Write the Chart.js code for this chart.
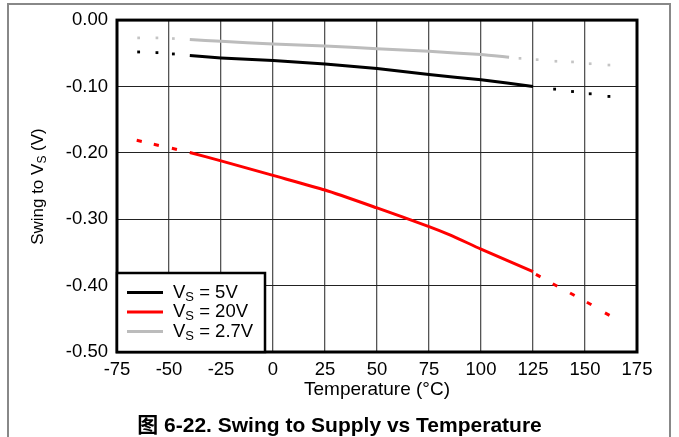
<!DOCTYPE html>
<html lang="zh">
<head>
  <meta charset="UTF-8">
  <title>Swing to Supply vs Temperature</title>
  <script src="https://cdn.jsdelivr.net/npm/chart.js"></script>
  <style>
    * { box-sizing: border-box; margin:0; padding:0; }
    body { background:#fff; width:679px; height:437px; overflow:hidden; position:relative; font-family:"Liberation Sans", Arial, sans-serif; }
    .page { position:absolute; left:7px; top:3px; width:664px; height:440px; border:2px solid #888; border-bottom:none; }
    .wrap { position:absolute; left:0; top:0; width:679px; height:437px; }
    .caption { position:absolute; left:0; width:679px; top:408px; text-align:center; font:bold 21px "Liberation Sans", "Noto Sans CJK SC", sans-serif; color:#000; }
  </style>
</head>
<body>
  <div class="page"></div>
  <div class="wrap"><canvas id="c"></canvas></div>
  <div class="caption">图 6-22. Swing to Supply vs Temperature</div>

  <script>
    // x ticks and y ticks
    const xTicks = [-75, -50, -25, 0, 25, 50, 75, 100, 125, 150, 175];
    const yTicks = [0, -0.1, -0.2, -0.3, -0.4, -0.5];

    // solid parts of the curves (°C, V)
    const solidT5  = [-40, -25, 0, 25, 50, 75, 100, 125];
    const solid5   = [-0.0535, -0.057, -0.061, -0.066, -0.073, -0.082, -0.090, -0.100];
    const solidT20 = [-40, -25, 0, 25, 50, 75, 85, 100, 125];
    const solid20  = [-0.1995, -0.212, -0.234, -0.256, -0.283, -0.311, -0.3235, -0.345, -0.379];
    const solidT27 = [-40, -25, 0, 25, 50, 75, 100, 113.5];
    const solid27  = [-0.0293, -0.032, -0.036, -0.039, -0.043, -0.047, -0.052, -0.056];

    // extrapolated (dotted) parts
    const dotT5  = [-64.6, -55.8, -47.9, 135.4, 144, 152.5, 161.5];
    const dot5   = [-0.048, -0.049, -0.051, -0.104, -0.1076, -0.111, -0.115];
    const dotT20 = [-64.3, -56.1, -47.4, 127.5, 135.6, 143.9, 152, 160.7];
    const dot20  = [-0.182, -0.188, -0.194, -0.385, -0.399, -0.413, -0.427, -0.443];
    const dotT27 = [-64.6, -55.8, -47.9, 118.75, 127, 136, 144, 152.5, 161.5];
    const dot27  = [-0.0268, -0.0268, -0.0278, -0.0576, -0.0596, -0.062, -0.063, -0.0657, -0.0677];

    const seriesNames = ['5V', '20V', '2.7V'];
    const seriesColors = ['#000000', '#ff0000', '#bcbcbc'];

    const pts = (t, v) => t.map((x, i) => ({ x: x, y: v[i] }));
    const FONT = '"Liberation Sans", Arial, sans-serif';

    const solid = (t, v, col) => ({
      data: pts(t, v), borderColor: col, borderWidth: 3, pointRadius: 0,
      showLine: true, fill: false, tension: 0.2
    });

    // frame of the plot area
    const frame = {
      id: 'frame',
      beforeDatasetsDraw(chart) {
        const { ctx, chartArea: a } = chart;
        ctx.save();
        ctx.strokeStyle = '#000';
        ctx.lineWidth = 3;
        ctx.strokeRect(a.left, a.top, a.right - a.left, a.bottom - a.top);
        ctx.restore();
      }
    };

    // text with a subscript S after the V
    function subText(ctx, x, y, pre, post, size) {
      ctx.font = size + 'px ' + FONT;
      ctx.fillText(pre, x, y);
      x += ctx.measureText(pre).width;
      ctx.font = Math.round(size * 0.72) + 'px ' + FONT;
      ctx.fillText('S', x, y + size * 0.25);
      x += ctx.measureText('S').width;
      ctx.font = size + 'px ' + FONT;
      ctx.fillText(post, x, y);
      return x + ctx.measureText(post).width;
    }

    const extras = {
      id: 'extras',
      afterDraw(chart) {
        const { ctx, chartArea: a } = chart;
        ctx.save();
        ctx.fillStyle = '#000';
        ctx.textBaseline = 'middle';

        // y axis title
        ctx.save();
        ctx.font = '17px ' + FONT;
        const w = ctx.measureText('Swing to V').width + 9 + ctx.measureText(' (V)').width;
        ctx.translate(38, (a.top + a.bottom) / 2 + w / 2);
        ctx.rotate(-Math.PI / 2);
        subText(ctx, 0, 0, 'Swing to V', ' (V)', 17);
        ctx.restore();

        // legend
        const bx = a.left, by = 273;
        ctx.fillStyle = '#fff';
        ctx.fillRect(bx, by, 148, a.bottom - by);
        ctx.strokeStyle = '#000';
        ctx.lineWidth = 2.5;
        ctx.strokeRect(bx, by, 148, a.bottom - by);
        const rows = [292.5, 312, 331.5];
        seriesNames.forEach((n, i) => {
          ctx.strokeStyle = seriesColors[i];
          ctx.lineWidth = 3;
          ctx.beginPath();
          ctx.moveTo(127, rows[i]);
          ctx.lineTo(163, rows[i]);
          ctx.stroke();
          ctx.fillStyle = '#000';
          subText(ctx, 173, rows[i], 'V', ' = ' + n, 18.5);
        });
        ctx.restore();
      }
    };

    new Chart(document.getElementById('c'), {
      type: 'scatter',
      data: {
        datasets: [
          solid(solidT27, solid27, seriesColors[2]),
          solid(solidT5, solid5, seriesColors[0]),
          solid(solidT20, solid20, seriesColors[1]),
          { data: pts(dotT27, dot27), pointStyle: 'rect', pointRadius: 1.9, pointBorderWidth: 0, backgroundColor: '#c4c4c4', showLine: false },
          { data: pts(dotT5, dot5), pointStyle: 'rect', pointRadius: 2, pointBorderWidth: 0, backgroundColor: '#000', showLine: false },
          { data: pts(dotT20, dot20), pointStyle: 'line', pointRadius: 2.6, pointBorderWidth: 3, borderColor: '#ff0000',
            rotation: c => (c.raw && c.raw.x < 0 ? 13 : 29), showLine: false }
        ]
      },
      options: {
        animation: false,
        responsive: true,
        maintainAspectRatio: false,
        layout: { padding: { top: 20, right: 42, left: 0, bottom: 0 } },
        plugins: { legend: { display: false }, tooltip: { enabled: false } },
        scales: {
          x: {
            type: 'linear', min: -75, max: 175,
            afterFit: s => { s.height = 85; },
            afterBuildTicks: s => { s.ticks = xTicks.map(v => ({ value: v })); },
            grid: { color: '#555', lineWidth: 1.3, drawTicks: false },
            border: { display: false },
            ticks: { padding: 7, color: '#000', font: { family: FONT, size: 18.5 }, maxRotation: 0,
              callback: v => String(v) },
            title: { display: true, text: 'Temperature (°C)', color: '#000',
              font: { family: FONT, size: 19 }, padding: { top: 0, bottom: 36 } }
          },
          y: {
            type: 'linear', min: -0.5, max: 0,
            afterFit: s => { s.width = 117; },
            afterBuildTicks: s => { s.ticks = yTicks.map(v => ({ value: v })); },
            grid: { color: '#222', lineWidth: 1, drawTicks: false },
            border: { display: false },
            ticks: { padding: 9, color: '#000', font: { family: FONT, size: 18.5 },
              callback: v => (Math.abs(v) < 1e-9 ? '0.00' : v.toFixed(2)) }
          }
        }
      },
      plugins: [frame, extras]
    });
  </script>
</body>
</html>
